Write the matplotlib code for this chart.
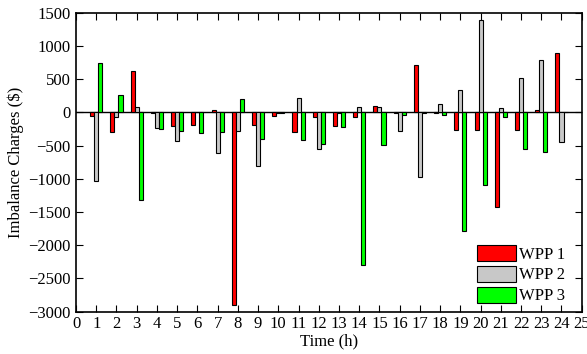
import matplotlib
matplotlib.use("Agg")
import matplotlib.pyplot as plt
import numpy as np

hours = np.arange(1, 25)
wpp1 = [-50, -300, 625, -10, -210, -190, 35, -2900, -190, -50, -290, -75,
        -210, -75, 100, -5, 710, -10, -260, -260, -1425, -260, 35, 890]
wpp2 = [-1040, -75, 75, -235, -435, 0, -610, -275, -800, -10, 215, -550,
        -10, 75, 85, -275, -965, 125, 335, 1390, 60, 515, 790, -440]
wpp3 = [750, 260, -1325, -255, -275, -315, -290, 200, -400, -10, -415, -475,
        -225, -2300, -490, -35, -15, -35, -1790, -1100, -75, -550, -600, 0]
labels = ["WPP 1", "WPP 2", "WPP 3"]
colors = ["#ff0000", "#c8c8c8", "#00ff00"]

plt.rcParams['font.family'] = ['Liberation Serif', 'DejaVu Serif']
plt.rcParams['font.size'] = 12

fig = plt.figure(figsize=(5.87, 3.54), dpi=100)
ax = fig.add_axes([0.1295, 0.1195, 0.8615, 0.8445])

w = 0.2
for i, (vals, lab, c) in enumerate(zip([wpp1, wpp2, wpp3], labels, colors)):
    ax.bar(hours + (i - 1) * w, vals, width=w, color=c, edgecolor='black',
           linewidth=0.8, label=lab)

ax.axhline(0, color='black', linewidth=1, zorder=0.5)
ax.set_xlim(0, 25)
ax.set_ylim(-3000, 1500)
ax.set_xticks(range(0, 26))
ax.set_yticks(range(-3000, 1501, 500))
ax.tick_params(direction='in', top=True, right=True, length=5, width=0.8, pad=4)
ax.tick_params(axis='x', pad=3)
for s in ax.spines.values():
    s.set_linewidth(1.2)
ax.set_xlabel("Time (h)", labelpad=1)
ax.set_ylabel("Imbalance Charges ($)", labelpad=3)

ax.legend(loc='lower right', frameon=False, handlelength=2.35, handleheight=1.07,
          handletextpad=0.15, labelspacing=0.2, fontsize=12,
          borderpad=0.3, bbox_to_anchor=(0.993, -0.02))

fig.savefig("out.png", dpi=100)
